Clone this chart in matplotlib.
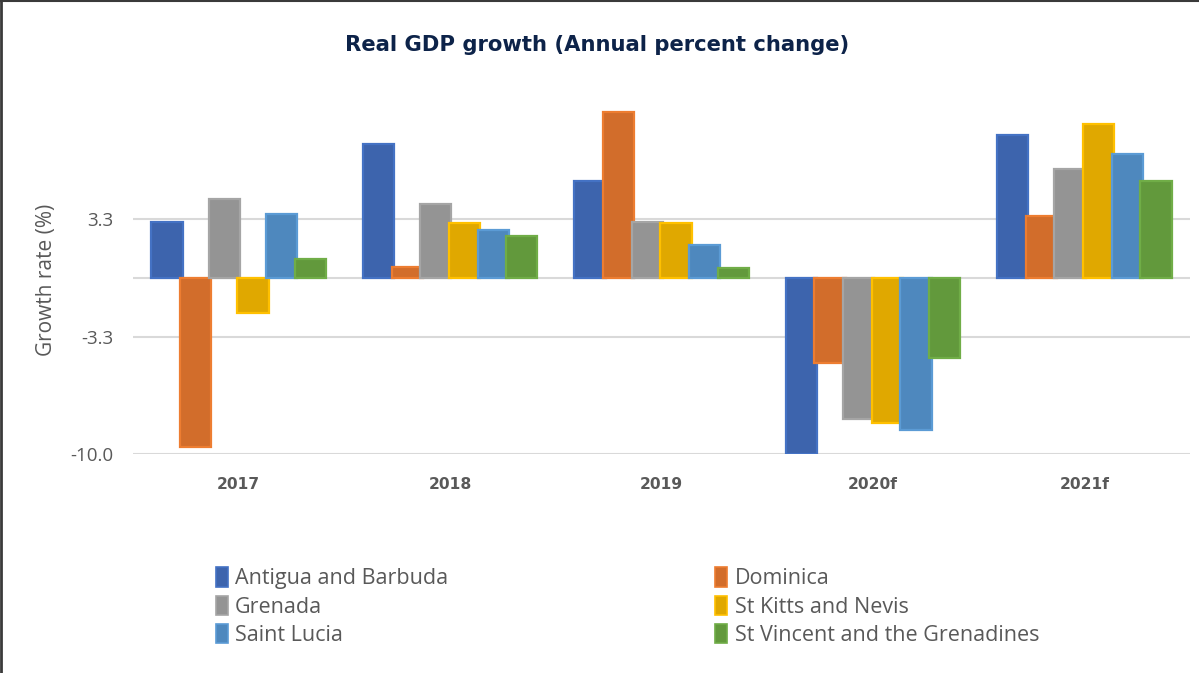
import numpy as np
import matplotlib
matplotlib.use("Agg")
import matplotlib.pyplot as plt
from matplotlib.patches import Rectangle


YEARS = ["2017", "2018", "2019", "2020f", "2021f"]

COUNTRIES = ["Antigua and Barbuda", "Dominica", "Grenada",
             "St Kitts and Nevis", "Saint Lucia", "St Vincent and the Grenadines"]

antigua = [3.2, 7.6, 5.5, -10.0, 8.1]
dominica = [-9.6, 0.6, 9.4, -4.8, 3.5]
grenada = [4.5, 4.2, 3.2, -8.0, 6.2]
st_kitts = [-2.0, 3.1, 3.1, -8.2, 8.7]
saint_lucia = [3.6, 2.7, 1.85, -8.6, 7.0]
st_vincent = [1.1, 2.4, 0.55, -4.55, 5.5]

SERIES = [antigua, dominica, grenada, st_kitts, saint_lucia, st_vincent]

FILLS = ["#3D64AD", "#D26D2B", "#949494", "#E0A800", "#4E88BE", "#62993C"]
EDGES = ["#4472C4", "#ED7D31", "#A5A5A5", "#FFC000", "#5B9BD5", "#70AD47"]

Y_TICKS = [-10.0, -10.0 / 3, 10.0 / 3]
Y_TICK_LABELS = ["-10.0", "-3.3", "3.3"]

TEXT_GREY = "#595959"
GRID_GREY = "#D9D9D9"


def main():
    fig = plt.figure(figsize=(11.99, 6.73), dpi=100)
    ax = fig.add_axes([0.111, 0.3247, 0.8815, 0.5245])

    x = np.arange(len(YEARS))
    step = 0.1356
    width = 0.148

    for i, vals in enumerate(SERIES):
        ax.bar(x + (i - 2.5) * step, vals, width,
               color=FILLS[i], edgecolor=EDGES[i], linewidth=1.6,
               zorder=3 + i, label=COUNTRIES[i])

    ax.set_xlim(-0.5, 4.5)
    ax.set_ylim(-10, 10)

    for y in Y_TICKS + [0.0]:
        ax.axhline(y, color=GRID_GREY, linewidth=1.5, zorder=1)

    ax.set_yticks(Y_TICKS)
    ax.set_yticklabels(Y_TICK_LABELS, fontfamily="Open Sans", fontsize=13.5,
                       color=TEXT_GREY)
    ax.set_xticks(x)
    ax.set_xticklabels(YEARS, fontfamily="DejaVu Sans", fontsize=11.2,
                       fontweight="bold", color=TEXT_GREY)
    ax.tick_params(axis="y", length=0, pad=14)
    ax.tick_params(axis="x", length=0, pad=16)

    for s in ax.spines.values():
        s.set_visible(False)

    fig.text(0.039, 0.584, "Growth rate (%)", rotation=90, ha="center",
             va="center", fontfamily="Open Sans", fontsize=15,
             color=TEXT_GREY)

    fig.text(0.498, 0.933, "Real GDP growth (Annual percent change)",
             ha="center", va="center", fontfamily="DejaVu Sans",
             fontsize=15.2, fontweight="bold", color="#0D2349")

    # legend is filled column by column, so reorder to read row by row
    order = [0, 2, 4, 1, 3, 5]
    handles = [Rectangle((0, 0), 1, 1, facecolor=FILLS[i], edgecolor=EDGES[i],
                         linewidth=1.2) for i in order]
    labels = [COUNTRIES[i] for i in order]
    leg = fig.legend(handles, labels, ncol=2, loc="upper left",
                     bbox_to_anchor=(0.180, 0.157), frameon=False,
                     prop={"family": "Open Sans", "size": 15.5},
                     handlelength=0.55, handleheight=1.0, handletextpad=0.35,
                     labelspacing=0.29, columnspacing=12.4,
                     borderaxespad=0, borderpad=0)
    for t in leg.get_texts():
        t.set_color(TEXT_GREY)

    # frame lines on the left and top of the canvas
    fig.add_artist(plt.Line2D([0.001, 0.001], [0, 1], color="#3A3A3A",
                              linewidth=2, transform=fig.transFigure))
    fig.add_artist(plt.Line2D([0, 1], [0.999, 0.999], color="#3A3A3A",
                              linewidth=1.5, transform=fig.transFigure))

    fig.savefig("out.png", dpi=100)


if __name__ == '__main__':
    main()
